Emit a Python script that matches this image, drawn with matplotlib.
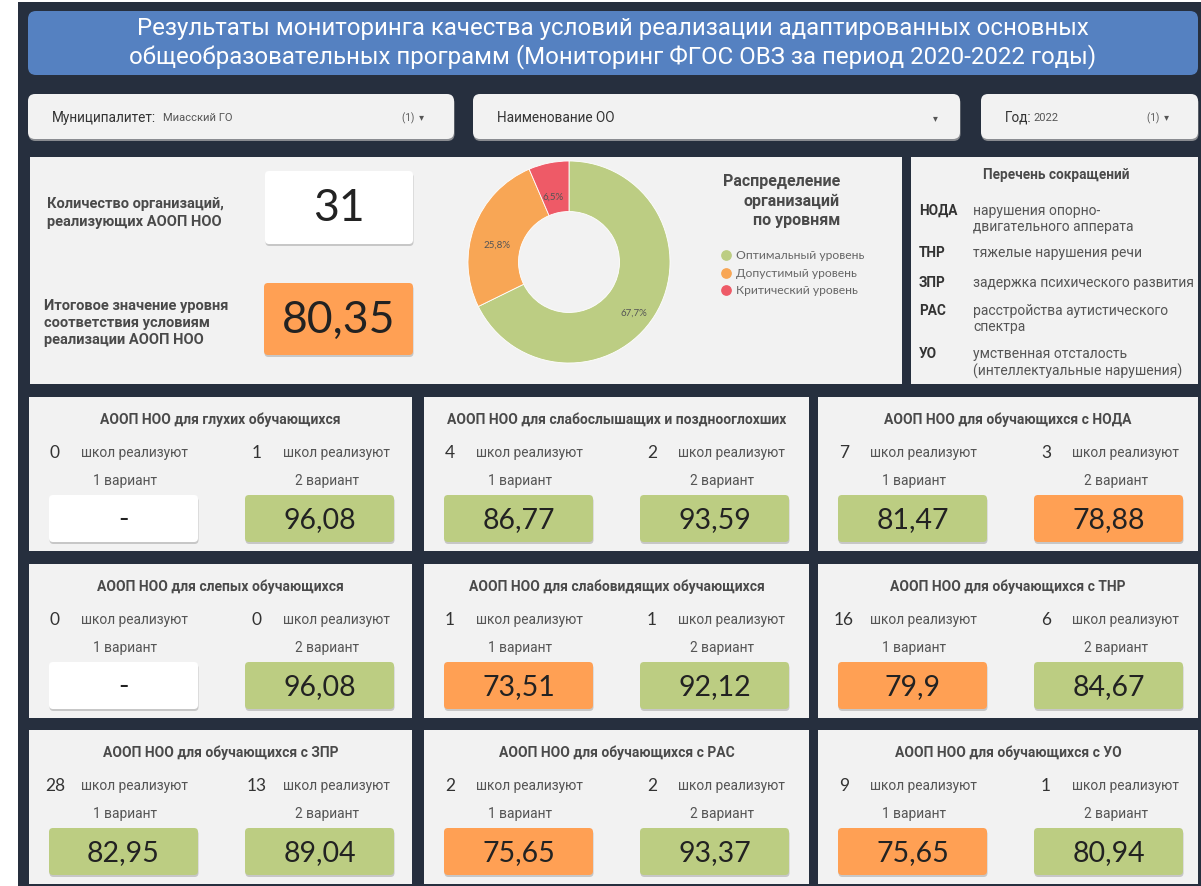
import matplotlib.pyplot as plt
from matplotlib.patches import FancyBboxPatch, Rectangle

plt.rcParams['font.family'] = ['Roboto', 'DejaVu Sans']

# --- данные ---
title_text = ("Результаты мониторинга качества условий реализации адаптированных основных\n"
              "общеобразовательных программ (Мониторинг ФГОС ОВЗ за период 2020-2022 годы)")
municipality = "Миасский ГО"
year = "2022"
total_orgs = 31
total_score = 80.35

levels = ["Оптимальный уровень", "Допустимый уровень", "Критический уровень"]
level_counts = [21, 8, 2]
level_colors = ["#bccd83", "#f8a655", "#ee5a67"]

abbr = ["НОДА", "ТНР", "ЗПР", "РАС", "УО"]
abbr_text = ["нарушения опорно-\nдвигательного апперата",
             "тяжелые нарушения речи",
             "задержка психического развития",
             "расстройства аутистического\nспектра",
             "умственная отсталость\n(интеллектуальные нарушения)"]

card_titles = ["АООП НОО для глухих обучающихся",
               "АООП НОО для слабослышащих и позднооглохших",
               "АООП НОО для обучающихся с НОДА",
               "АООП НОО для слепых обучающихся",
               "АООП НОО для слабовидящих обучающихся",
               "АООП НОО для обучающихся с ТНР",
               "АООП НОО для обучающихся с ЗПР",
               "АООП НОО для обучающихся с РАС",
               "АООП НОО для обучающихся с УО"]
schools_v1 = [0, 4, 7, 0, 1, 16, 28, 2, 9]
schools_v2 = [1, 2, 3, 0, 1, 6, 13, 2, 1]
score_v1 = [None, 86.77, 81.47, None, 73.51, 79.9, 82.95, 75.65, 75.65]
score_v2 = [96.08, 93.59, 78.88, 96.08, 92.12, 84.67, 89.04, 93.37, 80.94]

# --- цвета ---
BG = "#262f3e"
PANEL = "#f2f2f2"
BLUE = "#5581c1"
GREEN = "#bccd82"
ORANGE = "#ffa054"
TXT = "#4a4a4a"
NUMFONT = ['Lato', 'DejaVu Sans']

fig = plt.figure(figsize=(12.01, 8.87), dpi=100, facecolor="white")
ax = fig.add_axes([0, 0, 1, 1])
ax.set_xlim(0, 1201)
ax.set_ylim(887, 0)
ax.axis('off')


def box(x0, y0, x1, y1, color, r=4, shadow=False, z=2):
    if shadow:
        ax.add_patch(FancyBboxPatch((x0 + 0.5, y0 + 2), x1 - x0, y1 - y0,
                                    boxstyle=f"round,pad=0,rounding_size={r}",
                                    fc="#b5b5b5", ec="none", alpha=0.7, zorder=z - 0.1))
    ax.add_patch(FancyBboxPatch((x0, y0), x1 - x0, y1 - y0,
                                boxstyle=f"round,pad=0,rounding_size={r}",
                                fc=color, ec="none", zorder=z))


def score_color(v):
    if v is None:
        return "white"
    return GREEN if v >= 80 else ORANGE


def fmt(v):
    if v is None:
        return "-"
    return str(v).replace(".", ",")


# фон
ax.add_patch(Rectangle((18, 3), 1183, 884, fc=BG, ec="none", zorder=0))

# заголовок
box(28, 12, 1198, 76, BLUE, r=8, shadow=False)
ax.text(613, 43, title_text, ha="center", va="center", color="white",
        fontsize=17.3, fontweight="normal", linespacing=1.2, zorder=3)

# фильтры
box(28, 95, 454, 140, PANEL, r=7, shadow=True)
box(473, 95, 960, 140, PANEL, r=7, shadow=True)
box(981, 95, 1198, 140, PANEL, r=7, shadow=True)
ax.text(52, 118, "Муниципалитет:", ha="left", va="center", fontsize=9.8, color="#333", zorder=3)
ax.text(163, 118, municipality, ha="left", va="center", fontsize=8, color="#555", zorder=3)
ax.text(402, 118, "(1)  ▾", ha="left", va="center", fontsize=7, color="#555", zorder=3)
ax.text(497, 118, "Наименование ОО", ha="left", va="center", fontsize=9.8, color="#333", zorder=3)
ax.text(933, 118, "▾", ha="left", va="center", fontsize=7, color="#555", zorder=3)
ax.text(1005, 118, "Год:", ha="left", va="center", fontsize=9.8, color="#333", zorder=3)
ax.text(1033, 118, year, ha="left", va="center", fontsize=8, color="#555", zorder=3)
ax.text(1147, 118, "(1)  ▾", ha="left", va="center", fontsize=7, color="#555", zorder=3)

# верхние панели
ax.add_patch(Rectangle((30, 158), 872, 227, fc=PANEL, ec="none", zorder=1))
ax.add_patch(Rectangle((911, 158), 287, 227, fc=PANEL, ec="none", zorder=1))

ax.text(47, 213, "Количество организаций,\nреализующих АООП НОО", ha="left", va="center",
        fontsize=10.5, fontweight="bold", color=TXT, linespacing=1.3, zorder=3)
box(265, 172, 413, 245, "white", r=4, shadow=True)
ax.text(339, 209, str(total_orgs), ha="center", va="center", fontsize=32,
        family=NUMFONT, color="#222", zorder=3)

ax.text(44, 323, "Итоговое значение уровня\nсоответствия условиям\nреализации АООП НОО",
        ha="left", va="center", fontsize=10.5, fontweight="bold", color=TXT,
        linespacing=1.3, zorder=3)
box(264, 284, 413, 356, ORANGE, r=4, shadow=True)
ax.text(339, 320, fmt(total_score), ha="center", va="center", fontsize=32,
        family=NUMFONT, color="#222", zorder=3)

# кольцевая диаграмма
axp = fig.add_axes([468 / 1201, 1 - 364 / 887, 202 / 1201, 202 / 887])
wedges, texts, autotexts = axp.pie(
    level_counts, colors=level_colors, startangle=90, counterclock=False,
    wedgeprops=dict(width=0.5, edgecolor="white", linewidth=0.6),
    autopct=lambda p: f"{p:.1f}%".replace(".", ","), pctdistance=0.76,
    textprops=dict(fontsize=7, color="#555", family=NUMFONT))
for t in autotexts:
    x, y = t.get_position()
    t.set_position((x, y - 0.09))
axp.set_xlim(-1.0, 1.0)
axp.set_ylim(-1.0, 1.0)
axp.set_aspect("equal")

ax.text(840, 201, "Распределение\nорганизаций\nпо уровням", ha="right", va="center",
        fontsize=11.5, fontweight="bold", color=TXT, linespacing=1.35, zorder=3)
for i, (lab, col) in enumerate(zip(levels, level_colors)):
    yy = 256 + i * 17.5
    ax.scatter([726], [yy], s=45, color=col, zorder=3)
    ax.text(736, yy, lab, ha="left", va="center", fontsize=8.7, color="#666",
            family=NUMFONT, zorder=3)

# перечень сокращений
ax.text(1056, 175, "Перечень сокращений", ha="center", va="center", fontsize=9.8,
        fontweight="bold", color=TXT, zorder=3)
abbr_y = [204, 246, 276, 304, 347]
for a, t, yy in zip(abbr, abbr_text, abbr_y):
    ax.text(919, yy, a, ha="left", va="top", fontsize=9.8, fontweight="bold",
            color="#333", zorder=3)
    ax.text(973, yy, t, ha="left", va="top", fontsize=10, color="#555",
            linespacing=1.2, zorder=3)

# карточки
col_x = [29, 424, 818]
col_w = [383, 385, 380]
row_y = [398, 565, 731]
row_h = 154
for k in range(9):
    r, c = divmod(k, 3)
    x0, y0 = col_x[c], row_y[r]
    ax.add_patch(Rectangle((x0, y0), col_w[c], row_h, fc=PANEL, ec="none", zorder=1))
    ax.text(x0 + col_w[c] / 2, y0 + 22, card_titles[k], ha="center", va="center",
            fontsize=10, fontweight="bold", color=TXT, zorder=3)
    for j, (n, v) in enumerate([(schools_v1[k], score_v1[k]), (schools_v2[k], score_v2[k])]):
        dx = 0 if j == 0 else 202
        ax.text(x0 + 26 + dx, y0 + 55, str(n), ha="center", va="center", fontsize=12.5,
                family=NUMFONT, color="#333", zorder=3)
        ax.text(x0 + 52 + dx, y0 + 55, "школ реализуют", ha="left", va="center",
                fontsize=9.9, color="#555", zorder=3)
        ax.text(x0 + 96 + dx, y0 + 83, f"{j + 1} вариант", ha="center", va="center",
                fontsize=9.9, color="#555", zorder=3)
        bx = x0 + 20 + (0 if j == 0 else 196)
        box(bx, y0 + 98, bx + 149, y0 + 145, score_color(v), r=4, shadow=True)
        ax.text(bx + 74.5, y0 + 122, fmt(v), ha="center", va="center", fontsize=20.5,
                family=NUMFONT, color="#222", zorder=3)

fig.savefig("out.png", dpi=100, facecolor="white")
